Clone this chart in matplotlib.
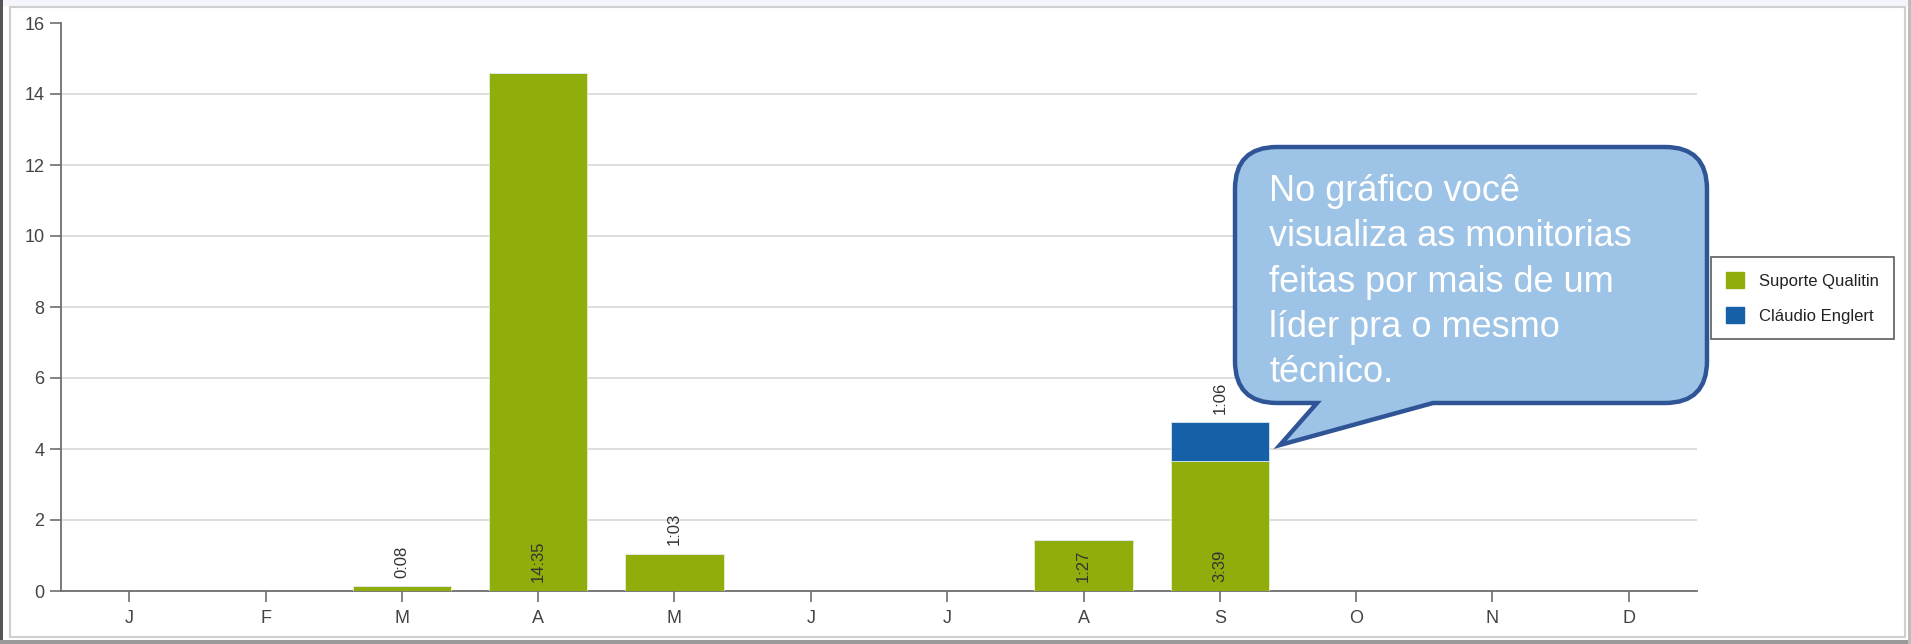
import numpy as np
import matplotlib
matplotlib.use("Agg")
from matplotlib import pyplot as plt
from matplotlib.path import Path
from matplotlib.patches import PathPatch, Rectangle

plt.rcParams['font.family'] = ['Liberation Sans', 'DejaVu Sans']

# dados
meses = ['J', 'F', 'M', 'A', 'M', 'J', 'J', 'A', 'S', 'O', 'N', 'D']
suporte = [0, 0, 0.13, 14.58, 1.05, 0, 0, 1.45, 3.65, 0, 0, 0]
claudio = [0, 0, 0, 0, 0, 0, 0, 0, 1.1, 0, 0, 0]
rot_suporte = ['', '', '0:08', '14:35', '1:03', '', '', '1:27', '3:39', '', '', '']
rot_claudio = ['', '', '', '', '', '', '', '', '1:06', '', '', '']
series = ['Suporte Qualitin', 'Cláudio Englert']

W, H = 1911, 644
verde = '#8fae0b'
azul = '#1660a8'
cinza = '#6e6e6e'

fig = plt.figure(figsize=(W / 100, H / 100), dpi=100)
fig.patch.set_facecolor('white')

# moldura da janela
fig.add_artist(Rectangle((0, 1 - 6 / H), 1, 6 / H, transform=fig.transFigure,
                         facecolor='#f3f5fa', edgecolor='none'))
fig.add_artist(Rectangle((10 / W, 7 / H), (W - 16) / W, (H - 14) / H, transform=fig.transFigure,
                         facecolor='none', edgecolor='#cfcfcf', lw=1.5))
fig.add_artist(Rectangle((0, 0), 3 / W, 1, transform=fig.transFigure,
                         facecolor='#555555', edgecolor='none'))
fig.add_artist(Rectangle((0, 0), 1, 4 / H, transform=fig.transFigure,
                         facecolor='#9a9a9a', edgecolor='none'))
fig.add_artist(Rectangle((1 - 3 / W, 0), 3 / W, 1, transform=fig.transFigure,
                         facecolor='#bdbdbd', edgecolor='none'))

ax = fig.add_axes([61 / W, 53 / H, (1697 - 61) / W, (591 - 23) / H])
x = np.arange(len(meses))
larg = 0.72
ax.bar(x, suporte, width=larg, color=verde, edgecolor='#e8eed0', linewidth=0.6, zorder=3)
ax.bar(x, claudio, width=larg, bottom=suporte, color=azul, edgecolor='#dde6f0', linewidth=0.6, zorder=3)

ax.set_xlim(-0.5, 11.5)
ax.set_ylim(0, 16)
ax.set_yticks(range(0, 17, 2))
ax.set_xticks(x)
ax.set_xticklabels(meses)
ax.tick_params(axis='both', colors=cinza, labelcolor='#444444', labelsize=13, length=8, width=1.2)
ax.tick_params(axis='y', pad=4)
ax.tick_params(axis='x', pad=6)
for s in ['top', 'right']:
    ax.spines[s].set_visible(False)
for s in ['left', 'bottom']:
    ax.spines[s].set_color(cinza)
    ax.spines[s].set_linewidth(1.3)
ax.yaxis.grid(True, color='#d8d8d8', linewidth=1.2, zorder=0)
ax.set_axisbelow(True)
ax.get_ygridlines()[-1].set_visible(False)

# rotulos das barras
for i in range(len(meses)):
    if rot_suporte[i]:
        if suporte[i] > 1.4:
            ax.text(x[i], 0.25, rot_suporte[i], rotation=90, ha='center', va='bottom',
                    fontsize=12, color='#333333', zorder=4)
        else:
            ax.text(x[i], suporte[i] + 0.25, rot_suporte[i], rotation=90, ha='center', va='bottom',
                    fontsize=12, color='#333333', zorder=4)
    if rot_claudio[i]:
        ax.text(x[i], suporte[i] + claudio[i] + 0.25, rot_claudio[i], rotation=90, ha='center',
                va='bottom', fontsize=12, color='#333333', zorder=4)

# legenda
leg = fig.legend([Rectangle((0, 0), 1, 1, color=verde), Rectangle((0, 0), 1, 1, color=azul)],
                 series, loc='upper left', bbox_to_anchor=(1711 / W, 1 - 257 / H),
                 frameon=True, fancybox=False, fontsize=12, handlelength=1.1, handleheight=1.1,
                 labelspacing=1.1, borderpad=0.9, handletextpad=0.9, borderaxespad=0)
leg.get_frame().set_edgecolor('#333333')
leg.get_frame().set_linewidth(1.2)
for t in leg.get_texts():
    t.set_color('#222222')

# balao
L, R, T, B, r = 1235, 1707, 147, 403, 42
tip = (1280, 445)
pts = [(L + r, T), (R - r, T), (R, T), (R, T + r), (R, B - r), (R, B), (R - r, B),
       (1433, B), tip, (1317, B), (L + r, B), (L, B), (L, B - r), (L, T + r), (L, T), (L + r, T), (L + r, T)]
codes = [Path.MOVETO, Path.LINETO, Path.CURVE3, Path.CURVE3, Path.LINETO, Path.CURVE3, Path.CURVE3,
         Path.LINETO, Path.LINETO, Path.LINETO, Path.LINETO, Path.CURVE3, Path.CURVE3, Path.LINETO,
         Path.CURVE3, Path.CURVE3, Path.CLOSEPOLY]
verts = [(px / W, 1 - py / H) for px, py in pts]
fig.add_artist(PathPatch(Path(verts, codes), transform=fig.transFigure, facecolor='#9dc3e6',
                         edgecolor='#2f5597', linewidth=3.2, zorder=10))
fig.text(1269 / W, 1 - 174 / H, 'No gráfico você\nvisualiza as monitorias\nfeitas por mais de um\nlíder pra o mesmo\ntécnico.',
         ha='left', va='top', fontsize=26, color='white', linespacing=1.38, zorder=11)

fig.savefig('out.png', dpi=100)
